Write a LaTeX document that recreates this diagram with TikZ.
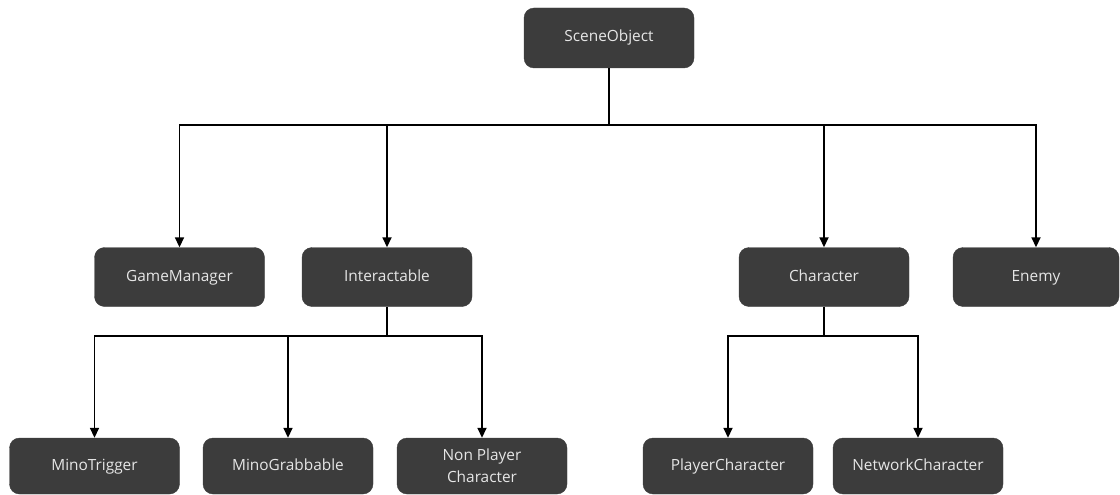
\documentclass[tikz,border=0pt]{standalone}
\usepackage{fontspec}
\setmainfont{Open Sans}
\usetikzlibrary{arrows.meta}
\definecolor{boxfill}{HTML}{3C3C3C}
\definecolor{boxtext}{HTML}{E6E6E6}
\begin{document}
\begin{tikzpicture}[x=1pt,y=-1pt,
  base/.style={draw=boxfill, fill=boxfill, text=boxtext, rounded corners=10pt,
    minimum width=170pt, minimum height=59pt, inner sep=0pt, align=center,
    font=\fontsize{15.4}{22}\selectfont},
  cls/.style={base, text height=11pt, text depth=3pt},
  leaf/.style={cls, minimum height=56pt},
  leaftwo/.style={base, minimum height=56pt},
  link/.style={draw=black, line width=1.7pt},
  arr/.style={link, -{Triangle[width=9pt,length=10pt]}}]
\useasboundingbox (0,0) rectangle (1120,495);
\node[cls, minimum height=60pt] (so) at (609,38) {SceneObject};
\node[cls] (gm) at (179.5,277) {GameManager};
\node[cls] (int) at (387,277) {Interactable};
\node[cls] (ch) at (824,277) {Character};
\node[cls, minimum width=166pt] (en) at (1036,277) {Enemy};
\node[leaf] (mt) at (94.5,466) {MinoTrigger};
\node[leaf] (mg) at (288,466) {MinoGrabbable};
\node[leaftwo] (npc) at (482,466) {Non Player\\Character};
\node[leaf] (pc) at (728,466) {PlayerCharacter};
\node[leaf] (nc) at (918,466) {NetworkCharacter};
\coordinate (b1) at (609,125);
\coordinate (b2) at (387,336);
\coordinate (b3) at (824,336);
\draw[link] (so.south) -- (b1);
\draw[arr] (b1) -| (gm.north);
\draw[arr] (b1) -| (int.north);
\draw[arr] (b1) -| (ch.north);
\draw[arr] (b1) -| (en.north);
\draw[link] (int.south) -- (b2);
\draw[arr] (b2) -| (mt.north);
\draw[arr] (b2) -| (mg.north);
\draw[arr] (b2) -| (npc.north);
\draw[link] (ch.south) -- (b3);
\draw[arr] (b3) -| (pc.north);
\draw[arr] (b3) -| (nc.north);
\end{tikzpicture}
\end{document}
